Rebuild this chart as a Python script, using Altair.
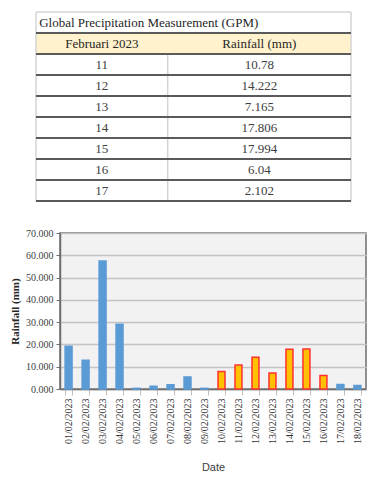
import altair as alt
import pandas as pd

# ---------------- data ----------------
table_title = "Global Precipitation Measurement (GPM)"
table_headers = ["Februari 2023", "Rainfall (mm)"]
table_days = ["11", "12", "13", "14", "15", "16", "17"]
table_rain = ["10.78", "14.222", "7.165", "17.806", "17.994", "6.04", "2.102"]

dates = ["01/02/2023", "02/02/2023", "03/02/2023", "04/02/2023", "05/02/2023",
         "06/02/2023", "07/02/2023", "08/02/2023", "09/02/2023", "10/02/2023",
         "11/02/2023", "12/02/2023", "13/02/2023", "14/02/2023", "15/02/2023",
         "16/02/2023", "17/02/2023", "18/02/2023"]
rainfall = [19.2, 12.9, 57.4, 29.1, 0.3, 1.2, 1.9, 5.4, 0.3,
            7.9, 10.78, 14.222, 7.165, 17.806, 17.994, 6.04, 2.0, 1.6]
groups = ["other"] * 9 + ["gpm"] * 7 + ["other"] * 2
y_ticks = [0, 10, 20, 30, 40, 50, 60, 70]

SERIF = "Liberation Serif, Times New Roman, serif"
SANS = "Liberation Sans Narrow, Arial Narrow, Liberation Sans, sans-serif"

# ---------------- table ----------------
n_rows = 2 + len(table_days)
col_div = 0.418
col_centers = [col_div / 2, (1 + col_div) / 2]

# table sits 24px left of the bar chart's plot origin
xs = alt.Scale(domain=[0, 1], range=[-24, 291])
ys = alt.Scale(domain=[0, n_rows], reverse=True)

hdr_bg = pd.DataFrame({"x": [0], "x2": [1], "y": [1], "y2": [2]})
dark_rules = pd.DataFrame({"x": [0] * n_rows, "x2": [1] * n_rows,
                           "y": list(range(1, n_rows + 1)),
                           "y2": list(range(1, n_rows + 1))})
light_rules = pd.DataFrame({"x": [0, 0, 1, col_div], "x2": [1, 0, 1, col_div],
                            "y": [0, 0, 0, 2], "y2": [0, n_rows, n_rows, n_rows]})

title_df = pd.DataFrame({"x": [0.01], "y": [0.5], "t": [table_title]})
hdr_df = pd.DataFrame({"x": col_centers, "y": [1.5, 1.5], "t": table_headers})
rows_x, rows_y, rows_t = [], [], []
for i, (d, r) in enumerate(zip(table_days, table_rain)):
    rows_x += col_centers
    rows_y += [2.5 + i, 2.5 + i]
    rows_t += [d, r]
rows_df = pd.DataFrame({"x": rows_x, "y": rows_y, "t": rows_t})

bg = alt.Chart(hdr_bg).mark_rect(color="#FFF2CC", clip=False).encode(
    x=alt.X("x:Q", scale=xs, axis=None), x2="x2:Q",
    y=alt.Y("y:Q", scale=ys, axis=None), y2="y2:Q")
lr = alt.Chart(light_rules).mark_rule(color="#D4D4D4", strokeWidth=1.5, clip=False).encode(
    x=alt.X("x:Q", scale=xs, axis=None), x2="x2:Q",
    y=alt.Y("y:Q", scale=ys, axis=None), y2="y2:Q")
dr = alt.Chart(dark_rules).mark_rule(color="#5A5A5A", strokeWidth=2, clip=False).encode(
    x=alt.X("x:Q", scale=xs, axis=None), x2="x2:Q",
    y=alt.Y("y:Q", scale=ys, axis=None), y2="y2:Q")
t_title = alt.Chart(title_df).mark_text(align="left", baseline="middle", font=SERIF,
                                        fontSize=13, color="#262626", clip=False).encode(
    x=alt.X("x:Q", scale=xs, axis=None), y=alt.Y("y:Q", scale=ys, axis=None), text="t:N")
t_hdr = alt.Chart(hdr_df).mark_text(align="center", baseline="middle", font=SERIF,
                                    fontSize=13, color="#262626", clip=False).encode(
    x=alt.X("x:Q", scale=xs, axis=None), y=alt.Y("y:Q", scale=ys, axis=None), text="t:N")
t_rows = alt.Chart(rows_df).mark_text(align="center", baseline="middle", font=SERIF,
                                      fontSize=13, color="#404040", clip=False).encode(
    x=alt.X("x:Q", scale=xs, axis=None), y=alt.Y("y:Q", scale=ys, axis=None), text="t:N")

table = alt.layer(bg, lr, dr, t_title, t_hdr, t_rows).properties(width=291, height=189)

# ---------------- bar chart ----------------
df = pd.DataFrame({"date": dates, "rain": rainfall, "group": groups})

bars = alt.Chart(df).mark_bar(strokeWidth=1.5).encode(
    x=alt.X("date:N", sort=dates,
            scale=alt.Scale(paddingInner=0.59, paddingOuter=0.3),
            axis=alt.Axis(title="Date", labelAngle=270, labelFont=SERIF, labelFontSize=10,
                          labelColor="#333333", tickBand="extent", tickColor="#BFBFBF",
                          tickSize=6, domainColor="#6E6E6E", domainWidth=1.5,
                          titleFont=SANS, titleFontSize=11, titleFontWeight="normal",
                          titleColor="#404040", titlePadding=18, labelPadding=3)),
    y=alt.Y("rain:Q", scale=alt.Scale(domain=[0, 70], nice=False),
            axis=alt.Axis(values=y_ticks, format=".3f", title="Rainfall (mm)",
                          labelFont=SERIF, labelFontSize=10, labelColor="#404040",
                          tickColor="#6E6E6E", tickSize=4, domainColor="#6E6E6E",
                          domainWidth=1.5, gridColor="#C4C4C4", gridWidth=1.5,
                          titleFont=SERIF, titleFontSize=11, titleFontWeight="bold",
                          titleColor="#262626", titlePadding=5, labelPadding=3)),
    fill=alt.Fill("group:N", scale=alt.Scale(domain=["other", "gpm"],
                                            range=["#5B9BD5", "#FFC000"]), legend=None),
    stroke=alt.Stroke("group:N", scale=alt.Scale(domain=["other", "gpm"],
                                                range=["#5B9BD5", "#FF3030"]), legend=None),
).properties(width=306, height=156,
             view=alt.ViewBackground(fill="#F2F2F2", stroke="#6E6E6E", strokeWidth=1.5))

chart = alt.vconcat(table, bars, spacing=25).properties(
    padding={"top": 3, "left": 0, "right": 0, "bottom": 0}
).configure_view(strokeWidth=0)

chart.save("out.html", embed_options={"renderer": "svg", "actions": False})
